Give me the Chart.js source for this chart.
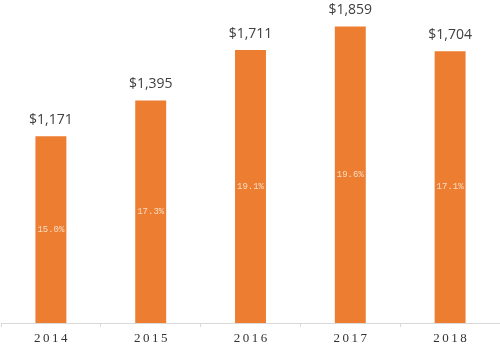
<!DOCTYPE html>
<html>
<head>
<meta charset="utf-8">
<script src="https://cdn.jsdelivr.net/npm/chart.js@4/dist/chart.umd.min.js"></script>
<style>
html,body{margin:0;padding:0;background:#fff;}
#wrap{width:500px;height:354px;position:relative;}
</style>
</head>
<body>
<div id="wrap"><canvas id="c"></canvas></div>
<script>
const years = ['2014', '2015', '2016', '2017', '2018'];
const revenue = [1171, 1395, 1711, 1859, 1704];
const shareLabels = ['15.0%', '17.3%', '19.1%', '19.6%', '17.1%'];

const labelPlugin = {
  id: 'labels',
  afterDatasetsDraw(chart) {
    const ctx = chart.ctx;
    const meta = chart.getDatasetMeta(0);
    const xs = chart.scales.x;
    ctx.save();
    meta.data.forEach((bar, i) => {
      // value above bar
      ctx.font = '14px "Open Sans"';
      ctx.fillStyle = '#404040';
      ctx.textAlign = 'center';
      ctx.textBaseline = 'alphabetic';
      ctx.fillText('$' + revenue[i].toLocaleString('en-US'), bar.x, bar.y - 12);
      // share inside bar
      ctx.font = '9px "Liberation Mono"';
      ctx.fillStyle = '#f9dcc0';
      ctx.textBaseline = 'middle';
      ctx.fillText(shareLabels[i], bar.x, (bar.y + bar.base) / 2);
      // year label
      ctx.font = '13px "Liberation Serif"';
      ctx.fillStyle = '#333333';
      ctx.letterSpacing = '2.5px';
      ctx.textBaseline = 'middle';
      ctx.fillText(years[i], xs.getPixelForValue(i) + 1.2, 338.5);
      ctx.letterSpacing = '0px';
    });
    ctx.restore();
  }
};

new Chart(document.getElementById('c'), {
  type: 'bar',
  data: {
    labels: years,
    datasets: [{
      data: revenue,
      backgroundColor: '#ED7D31',
      barPercentage: 0.31,
      categoryPercentage: 1.0
    }]
  },
  options: {
    responsive: true,
    maintainAspectRatio: false,
    animation: false,
    layout: { padding: { top: 4, left: 1, right: 0, bottom: 27 } },
    plugins: { legend: { display: false }, tooltip: { enabled: false } },
    scales: {
      x: {
        offset: true,
        grid: { offset: true, drawOnChartArea: false, drawTicks: true, tickLength: 4, color: '#d9d9d9' },
        border: { color: '#d9d9d9' },
        ticks: { display: false }
      },
      y: {
        display: false,
        min: 0,
        max: 2000
      }
    }
  },
  plugins: [labelPlugin]
});
</script>
</body>
</html>
